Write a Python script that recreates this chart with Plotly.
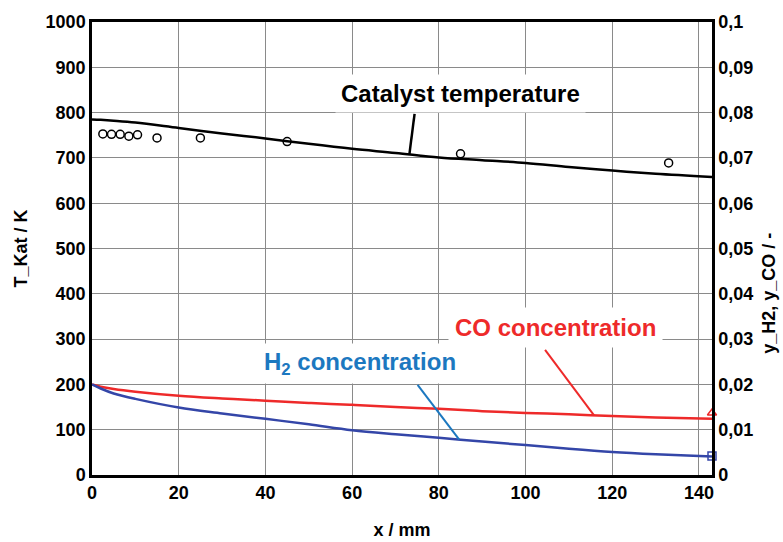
import numpy as np
import plotly.graph_objects as go

# Axial position along the catalyst bed (mm)
x_mm = [0, 2, 5, 10, 20, 30, 40, 50, 60, 70, 80, 90, 100, 110, 120, 130, 143]

# Simulated catalyst temperature (K)
t_kat = [785, 784, 782, 778, 766, 754, 743, 731, 720, 711, 701, 695, 689, 680, 672, 665, 658]

# Simulated mole fractions
y_co = [0.0200, 0.0195, 0.0190, 0.0184, 0.0175, 0.0169, 0.0164, 0.0159, 0.0155,
        0.0150, 0.0146, 0.0141, 0.0137, 0.0134, 0.0130, 0.0127, 0.0124]
y_h2 = [0.0200, 0.0191, 0.0180, 0.0168, 0.0149, 0.0136, 0.0124, 0.0112, 0.0099,
        0.0090, 0.0082, 0.0074, 0.0066, 0.0058, 0.0051, 0.0046, 0.0041]

# Measured catalyst temperatures
x_meas = [2.5, 4.5, 6.5, 8.5, 10.5, 15, 25, 45, 85, 133]
t_meas = [753, 752, 752, 748, 751, 744, 744, 736, 709, 689]

# Measured outlet concentrations
x_out = [143]
y_co_out = [0.0137]
y_h2_out = [0.0042]

left_ticks = list(range(0, 1001, 100))
right_ticks = [round(v * 0.01, 2) for v in range(0, 11)]
right_labels = ["0"] + [f"{v:.2f}".rstrip("0").replace(".", ",") for v in right_ticks[1:]]
x_ticks = list(range(0, 141, 20))

RED = "#ee2a2a"
BLUE = "#3446a8"
BLUE_PTR = "#1c78c0"
FONT = "Liberation Sans, Arial, sans-serif"

fig = go.Figure()

fig.add_trace(go.Scatter(x=x_mm, y=t_kat, mode="lines", line_shape="spline",
                         line=dict(color="black", width=2.5), yaxis="y"))
fig.add_trace(go.Scatter(x=x_meas, y=t_meas, mode="markers", yaxis="y",
                         marker=dict(symbol="circle-open", size=8,
                                     color="black", line=dict(width=1.5))))
fig.add_trace(go.Scatter(x=x_mm, y=y_co, mode="lines", yaxis="y2", line_shape="spline",
                         line=dict(color=RED, width=2.5)))
fig.add_trace(go.Scatter(x=x_mm, y=y_h2, mode="lines", yaxis="y2", line_shape="spline",
                         line=dict(color=BLUE, width=2.5)))
fig.add_trace(go.Scatter(x=x_out, y=y_co_out, mode="markers", yaxis="y2",
                         cliponaxis=False,
                         marker=dict(symbol="triangle-up-open", size=8,
                                     color=RED, line=dict(width=1.5))))
fig.add_trace(go.Scatter(x=x_out, y=y_h2_out, mode="markers", yaxis="y2",
                         cliponaxis=False,
                         marker=dict(symbol="square-open", size=8,
                                     color=BLUE, line=dict(width=1.5))))

# Leader lines from the labels to the curves
x_t_ptr, x_co_ptr, x_h2_ptr = 73.2, 115.8, 84.7
shapes = [
    dict(type="line", xref="x", yref="y", x0=74.4, y0=797,
         x1=x_t_ptr, y1=float(np.interp(x_t_ptr, x_mm, t_kat)),
         line=dict(color="black", width=2.5)),
    dict(type="line", xref="x", yref="y2", x0=104.5, y0=0.0276,
         x1=x_co_ptr, y1=float(np.interp(x_co_ptr, x_mm, y_co)),
         line=dict(color=RED, width=2)),
    dict(type="line", xref="x", yref="y2", x0=75.1, y0=0.0199,
         x1=x_h2_ptr, y1=float(np.interp(x_h2_ptr, x_mm, y_h2)),
         line=dict(color=BLUE_PTR, width=2)),
]

axis_font = dict(size=18, color="black", family=FONT, weight="bold")

annotations = [
    dict(x=85.0, y=843, xref="x", yref="y", text="<b>Catalyst temperature</b>",
         showarrow=False, font=dict(size=24, color="black", family=FONT),
         bgcolor="white", borderpad=5),
    dict(x=106.8, y=0.0325, xref="x", yref="y2", text="<b>CO concentration</b>",
         showarrow=False, font=dict(size=24, color=RED, family=FONT),
         bgcolor="white", borderpad=6),
    dict(x=61.9, y=0.0247, xref="x", yref="y2",
         text="<b>H<sub>2</sub> concentration</b>",
         showarrow=False, font=dict(size=24, color=BLUE_PTR, family=FONT),
         bgcolor="white", borderpad=4),
    # right-hand axis title
    dict(x=1.092, y=0.40, xref="paper", yref="paper", text="y_H2, y_CO / -",
         showarrow=False, textangle=-90, font=axis_font,
         xanchor="center", yanchor="middle"),
]

fig.update_layout(
    width=783, height=542,
    margin=dict(l=92, r=71, t=22, b=67, autoexpand=False),
    paper_bgcolor="white", plot_bgcolor="white",
    showlegend=False,
    font=dict(family=FONT, color="black"),
    shapes=shapes,
    annotations=annotations,
    xaxis=dict(range=[0, 143], tickvals=x_ticks, ticks="", automargin=False,
               showgrid=True, gridcolor="#8a8a8a", gridwidth=1,
               showline=True, linecolor="black", linewidth=2.5, mirror=True,
               zeroline=False, tickfont=axis_font,
               title=dict(text="x / mm", font=axis_font, standoff=22)),
    yaxis=dict(range=[0, 1000], tickvals=left_ticks, ticks="", automargin=False,
               showgrid=True, gridcolor="#8a8a8a", gridwidth=1,
               showline=True, linecolor="black", linewidth=2.5, mirror=True,
               zeroline=False, tickfont=axis_font,
               title=dict(text="T_Kat / K", font=axis_font, standoff=14)),
    yaxis2=dict(range=[0, 0.1], overlaying="y", side="right", automargin=False,
                tickvals=right_ticks, ticktext=right_labels, ticks="",
                showgrid=False, showline=True, linecolor="black", linewidth=2.5,
                zeroline=False, tickfont=axis_font),
)

fig.write_html("out.html")
